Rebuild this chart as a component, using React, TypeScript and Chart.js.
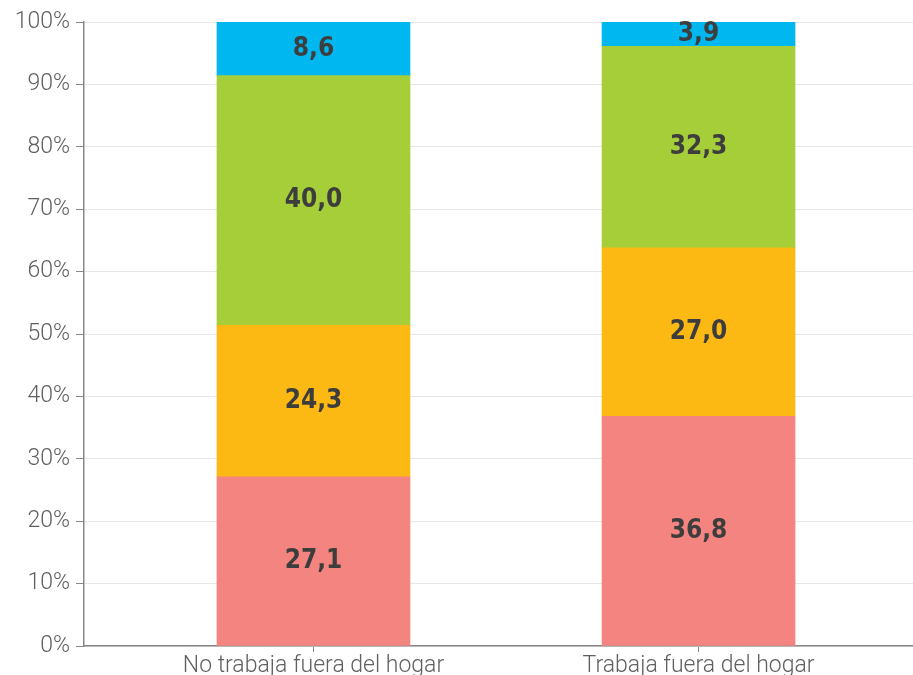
import React, { useEffect, useRef } from "react";
import { Chart, registerables } from "chart.js";

Chart.register(...registerables);

const categories = ["No trabaja fuera del hogar", "Trabaja fuera del hogar"];
const seriesRed = [27.1, 36.8];
const seriesOrange = [24.3, 27.0];
const seriesGreen = [40.0, 32.3];
const seriesBlue = [8.6, 3.9];
const yTicks = [0, 10, 20, 30, 40, 50, 60, 70, 80, 90, 100];

const colors = ["#F4847F", "#FDB913", "#A6CE39", "#00B7F0"];

const labelPlugin = {
  id: "segLabels",
  afterDatasetsDraw(chart: any) {
    const ctx = chart.ctx;
    ctx.save();
    ctx.font = "bold 26px 'DejaVu Sans Condensed', 'DejaVu Sans'";
    ctx.fillStyle = "#3d3d3d";
    ctx.textAlign = "center";
    ctx.textBaseline = "middle";
    chart.data.datasets.forEach((ds: any, di: number) => {
      const meta = chart.getDatasetMeta(di);
      meta.data.forEach((el: any, i: number) => {
        const v = ds.data[i].y;
        const y = (el.y + el.base) / 2;
        ctx.fillText(v.toFixed(1).replace(".", ","), el.x, y);
      });
    });
    ctx.restore();
  },
};

export default function App() {
  const ref = useRef<HTMLCanvasElement>(null);
  useEffect(() => {
    document.body.style.margin = "0";
    const series = [seriesRed, seriesOrange, seriesGreen, seriesBlue];
    const chart = new Chart(ref.current!, {
      type: "bar",
      data: {
        datasets: series.map((s, si) => ({
          data: s.map((v, i) => ({ x: i, y: v })),
          backgroundColor: colors[si],
          borderWidth: 0,
          barThickness: 193,
        })),
      },
      options: {
        animation: false,
        responsive: false,
        maintainAspectRatio: false,
        layout: { padding: { top: 22, right: 0, left: 0, bottom: 0 } },
        plugins: { legend: { display: false }, tooltip: { enabled: false } },
        scales: {
          x: {
            type: "linear",
            stacked: true,
            offset: false,
            min: -0.596,
            max: 1.557,
            afterBuildTicks: (scale: any) => {
              scale.ticks = categories.map((_, i) => ({ value: i }));
            },
            afterFit: (scale: any) => {
              scale.height = 29;
            },
            ticks: {
              callback: (v: any) => categories[v] ?? "",
              font: { family: "Roboto", weight: 300, size: 23 },
              color: "#606060",
              padding: 0,
              maxRotation: 0,
              autoSkip: false,
            },
            grid: { offset: false, drawOnChartArea: false, tickColor: "#888", tickLength: 6 },
            border: { color: "#888", width: 1.5 },
          },
          y: {
            stacked: true,
            min: 0,
            max: 100,
            afterBuildTicks: (scale: any) => {
              scale.ticks = yTicks.map((v) => ({ value: v }));
            },
            afterFit: (scale: any) => {
              scale.width = 84;
            },
            ticks: {
              callback: (v: any) => v + "%",
              font: { family: "Roboto", weight: 300, size: 23 },
              color: "#606060",
              padding: 6,
            },
            grid: { color: "#e6e6e6", tickColor: "#888", tickLength: 8 },
            border: { color: "#888", width: 1.5 },
          },
        },
      },
      plugins: [labelPlugin],
    });
    return () => chart.destroy();
  }, []);
  return (
    <div style={{ width: 913, height: 675 }}>
      <canvas ref={ref} width={913} height={675} style={{ display: "block" }} />
    </div>
  );
}
